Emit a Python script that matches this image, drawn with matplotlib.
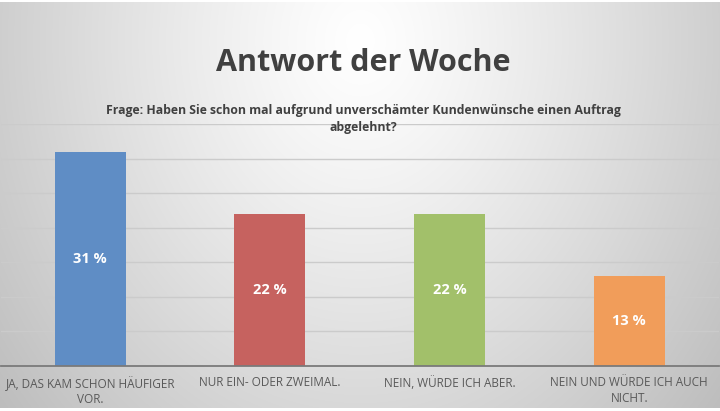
import numpy as np
import matplotlib
matplotlib.use("Agg")
import matplotlib.pyplot as plt

categories = ["JA, DAS KAM SCHON HÄUFIGER\nVOR.", "NUR EIN- ODER ZWEIMAL.",
              "NEIN, WÜRDE ICH ABER.", "NEIN UND WÜRDE ICH AUCH\nNICHT."]
values = [31, 22, 22, 13]
value_labels = ["31 %", "22 %", "22 %", "13 %"]
colors = ["#5F8DC5", "#C6625F", "#A2C06A", "#F19D5A"]
title = "Antwort der Woche"
subtitle = "Frage: Haben Sie schon mal aufgrund unverschämter Kundenwünsche einen Auftrag\nabgelehnt?"

W, H = 720, 411
fig = plt.figure(figsize=(W / 100, H / 100), dpi=100)
fig.patch.set_facecolor("white")

# background gradient
bg = fig.add_axes([0, 3 / H, 1, (H - 5) / H], zorder=-10)
yy, xx = np.mgrid[0:H, 0:W]
r = np.sqrt(((xx - 360) / 420.0) ** 2 + ((yy - 40) / 520.0) ** 2)
v = (255 - 58 * r ** 1.2) / 255.0
v = np.clip(v, 0, 1)
bg.imshow(np.dstack([v, v, v]), aspect="auto", extent=[0, 1, 0, 1], origin="upper")
bg.axis("off")

base_y = 366
top_y = 124
ax = fig.add_axes([0.5 / W, (H - base_y) / H, 718.5 / W, (base_y - top_y) / H])
ax.set_facecolor("none")
x = np.arange(len(values))
ax.bar(x, values, width=0.395, color=colors, zorder=3)
ax.set_xlim(-0.5, len(values) - 0.5)
ax.set_ylim(0, 35)
ax.set_yticks(np.arange(5, 36, 5))
ax.yaxis.grid(True, color="#cbcbcb", linewidth=1.0, zorder=0)
ax.set_yticklabels([])
ax.tick_params(axis="y", length=0)
ax.tick_params(axis="x", length=0, pad=7.5)
for s in ["top", "right", "left"]:
    ax.spines[s].set_visible(False)
ax.spines["bottom"].set_color("#7a7a7a")
ax.spines["bottom"].set_linewidth(1.3)
ax.spines["bottom"].set_zorder(4)
ax.set_xticks(x)
ax.set_xticklabels(categories, fontsize=8.5, color="#595959", family="Open Sans",
                   linespacing=1.22)

for xi, val, lab in zip(x, values, value_labels):
    ax.text(xi, val / 2, lab, ha="center", va="center", color="white",
            fontsize=10.5, fontweight="bold", family="Open Sans", zorder=5)

fig.text(363 / W, 1 - 63 / H, title, ha="center", va="center", fontsize=22,
         fontweight="bold", color="#404040", family="Open Sans")
fig.text(363 / W, 1 - 119 / H, subtitle, ha="center", va="center", fontsize=8.8,
         fontweight="bold", color="#404040", family="Open Sans", linespacing=1.4)

fig.savefig("out.png", dpi=100)
